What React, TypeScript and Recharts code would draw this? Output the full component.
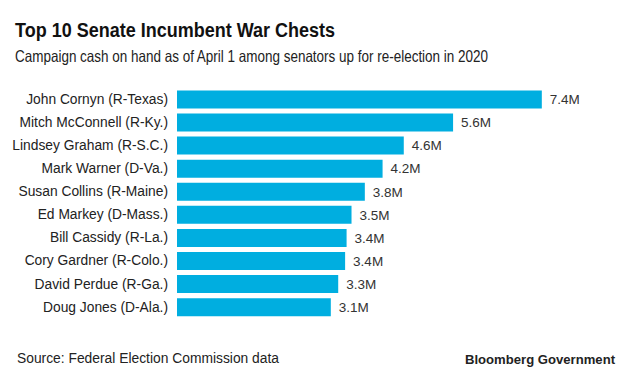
import React from "react";
import { BarChart, Bar, XAxis, YAxis, LabelList } from "recharts";

const senators = [
  "John Cornyn (R-Texas)",
  "Mitch McConnell (R-Ky.)",
  "Lindsey Graham (R-S.C.)",
  "Mark Warner (D-Va.)",
  "Susan Collins (R-Maine)",
  "Ed Markey (D-Mass.)",
  "Bill Cassidy (R-La.)",
  "Cory Gardner (R-Colo.)",
  "David Perdue (R-Ga.)",
  "Doug Jones (D-Ala.)",
];
const cashMillions = [7.4, 5.6, 4.6, 4.17, 3.81, 3.54, 3.44, 3.41, 3.27, 3.12];

const data = senators.map((name, i) => ({ name, cash: cashMillions[i] }));

const FONT = "'Liberation Sans', Arial, Helvetica, sans-serif";
const BLUE = "#00AEE0";

export default function App() {
  return (
    <div
      style={{
        position: "absolute",
        left: 0,
        top: 0,
        width: 620,
        height: 374,
        background: "#fff",
        fontFamily: FONT,
        overflow: "hidden",
      }}
    >
      <svg width={620} height={374} style={{ position: "absolute", left: 0, top: 0 }}>
        <text x={15} y={36.7} fontSize={19.5} fontWeight={700} fill="#111" fontFamily={FONT} textLength={320} lengthAdjust="spacingAndGlyphs">
          Top 10 Senate Incumbent War Chests
        </text>
        <text x={15} y={61.7} fontSize={16.5} fill="#222" fontFamily={FONT} textLength={473} lengthAdjust="spacingAndGlyphs">
          Campaign cash on hand as of April 1 among senators up for re-election in 2020
        </text>
        <text x={17} y={363.3} fontSize={14} fill="#222" fontFamily={FONT} textLength={262} lengthAdjust="spacingAndGlyphs">
          Source: Federal Election Commission data
        </text>
        <text x={465} y={364} fontSize={13} fontWeight={700} fill="#222" fontFamily={FONT} textLength={150} lengthAdjust="spacingAndGlyphs">
          Bloomberg Government
        </text>
      </svg>
      <div style={{ position: "absolute", left: 0, top: 0 }}>
        <BarChart
          width={620}
          height={330}
          data={data}
          layout="vertical"
          margin={{ top: 87.46, right: 48.6, left: 0, bottom: 11.74 }}
        >
          <XAxis type="number" domain={[0, 8]} hide />
          <YAxis
            type="category"
            dataKey="name"
            width={177}
            axisLine={false}
            tickLine={false}
            tickSize={0}
            tickMargin={9}
            interval={0}
            tick={{ fontSize: 13.8, fill: "#222", fontFamily: FONT }}
          />
          <Bar dataKey="cash" fill={BLUE} barSize={18} isAnimationActive={false}>
            <LabelList
              dataKey="cash"
              position="right"
              offset={8}
              formatter={(v: number) => v.toFixed(1) + "M"}
              style={{ fontSize: 13.5, fill: "#333", fontFamily: FONT }}
            />
          </Bar>
        </BarChart>
      </div>
    </div>
  );
}
